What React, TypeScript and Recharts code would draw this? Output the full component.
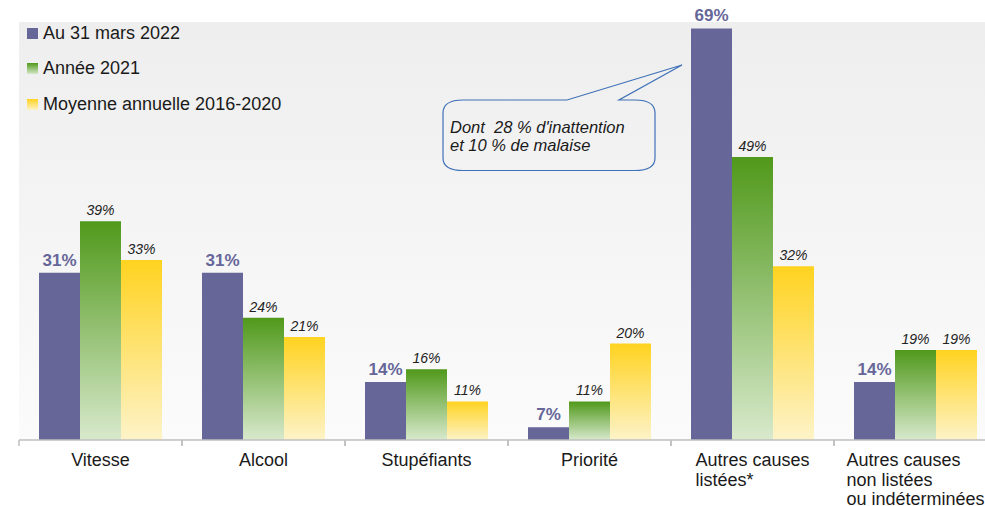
import { BarChart, Bar, XAxis, YAxis, CartesianGrid, LabelList, Legend } from 'recharts';

const categories = [
  'Vitesse',
  'Alcool',
  'Stupéfiants',
  'Priorité',
  'Autres causes\nlistées*',
  'Autres causes\nnon listées\nou indéterminées',
];
const mars2022 = [31, 31, 14, 7, 69, 14];
const annee2021 = [39, 24, 16, 11, 49, 19];
const moyenne = [33, 21, 11, 20, 32, 19];
const seriesNames = ['Au 31 mars 2022', 'Année 2021', 'Moyenne annuelle 2016-2020'];

const data = categories.map((cause, i) => ({
  cause,
  mars2022: mars2022[i],
  annee2021: annee2021[i],
  moyenne: moyenne[i],
}));

const FONT = '"Liberation Sans", Arial, sans-serif';
const CHART_W = 1000;
const CHART_H = 506;
const MARGIN = { top: 22, right: 3, left: 19, bottom: 0 };
const BAND = (CHART_W - MARGIN.left - MARGIN.right) / categories.length;
const AXIS_GRAY = '#bfbfbf';

const swatches = [
  '#666699',
  'linear-gradient(#50991b, #d6e8ca)',
  'linear-gradient(#ffd320, #fdf2c6)',
];

// measure text so multi-line labels can be left-aligned as a centred block
let ctx: CanvasRenderingContext2D | null = null;
const measure = (s: string) => {
  if (!ctx) ctx = document.createElement('canvas').getContext('2d');
  if (!ctx) return s.length * 9;
  ctx.font = `18px ${FONT}`;
  return ctx.measureText(s).width;
};

const CauseTick = ({ x, y, payload }: any) => {
  const lines = String(payload.value).split('\n');
  const multi = lines.length > 1;
  const maxW = Math.max(...lines.map(measure));
  const tx = multi ? x - maxW / 2 : x;
  return (
    <g>
      <line x1={x - BAND / 2} y1={y} x2={x - BAND / 2} y2={y + 6} stroke={AXIS_GRAY} strokeWidth={1.5} />
      <line x1={x + BAND / 2} y1={y} x2={x + BAND / 2} y2={y + 6} stroke={AXIS_GRAY} strokeWidth={1.5} />
      <text x={tx} y={y + 26} textAnchor={multi ? 'start' : 'middle'} fontFamily={FONT} fontSize={18} fill="#1a1a1a">
        {lines.map((l, i) => (
          <tspan key={i} x={tx} dy={i === 0 ? 0 : 19.7}>
            {l}
          </tspan>
        ))}
      </text>
    </g>
  );
};

const LegendContent = ({ payload }: any) => {
  const items = [...(payload || [])].sort(
    (a: any, b: any) => seriesNames.indexOf(a.value) - seriesNames.indexOf(b.value),
  );
  return (
    <div style={{ fontFamily: FONT, fontSize: 18, color: '#1a1a1a' }}>
      {items.map((p: any) => (
        <div key={p.value} style={{ display: 'flex', alignItems: 'center', height: 35.3, whiteSpace: 'nowrap' }}>
          <span
            style={{
              display: 'inline-block',
              width: 11,
              height: 11,
              background: swatches[seriesNames.indexOf(p.value)],
              marginRight: 5,
            }}
          />
          <span>{p.value}</span>
        </div>
      ))}
    </div>
  );
};

const pct = (v: any) => `${v}%`;

const Callout = () => (
  <svg width={985} height={506} style={{ position: 'absolute', left: 0, top: 0, pointerEvents: 'none' }}>
    <path
      d="M 463 100 L 567 100 L 682 65 L 619 100 L 635 100 Q 655 100 655 113 L 655 158 Q 655 170.5 635 170.5 L 463 170.5 Q 443 170.5 443 158 L 443 113 Q 443 100 463 100 Z"
      fill="none"
      stroke="#3f71b8"
      strokeWidth={1.2}
    />
    <text fontFamily={FONT} fontSize={16.5} fontStyle="italic" fill="#1a1a1a" style={{ whiteSpace: 'pre' }}>
      <tspan x={450} y={132.5}>Dont  28 % d'inattention</tspan>
      <tspan x={450} y={151}>et 10 % de malaise</tspan>
    </text>
  </svg>
);

export default function App() {
  return (
    <div style={{ position: 'absolute', left: 0, top: 0, width: 985, height: 506, overflow: 'hidden', background: '#fff' }}>
      <BarChart width={CHART_W} height={CHART_H} data={data} margin={MARGIN} barSize={41} barGap={0}>
        <defs>
          <linearGradient id="bgGrad" x1="0" y1="0" x2="0" y2="1">
            <stop offset="0%" stopColor="#eeeeee" />
            <stop offset="100%" stopColor="#fbfbfb" />
          </linearGradient>
          <linearGradient id="greenGrad" x1="0" y1="0" x2="0" y2="1">
            <stop offset="0%" stopColor="#50991b" />
            <stop offset="100%" stopColor="#d8e9cc" />
          </linearGradient>
          <linearGradient id="yellowGrad" x1="0" y1="0" x2="0" y2="1">
            <stop offset="0%" stopColor="#ffd320" />
            <stop offset="100%" stopColor="#fdf3c8" />
          </linearGradient>
        </defs>
        <CartesianGrid horizontal={false} vertical={false} stroke="none" fill="url(#bgGrad)" />
        <XAxis
          dataKey="cause"
          height={66}
          interval={0}
          tickLine={false}
          tickSize={0}
          tickMargin={0}
          axisLine={{ stroke: AXIS_GRAY, strokeWidth: 1.5 }}
          tick={<CauseTick />}
        />
        <YAxis hide width={0} domain={[5, 70]} allowDataOverflow />
        <Legend
          layout="vertical"
          align="center"
          verticalAlign="middle"
          itemSorter={null}
          content={<LegendContent />}
          wrapperStyle={{ left: 27, top: 16, width: 320, height: 110 }}
        />
        <Bar dataKey="mars2022" name={seriesNames[0]} fill="#666699" isAnimationActive={false}>
          <LabelList dataKey="mars2022" position="top" offset={7} formatter={pct} fill="#666699" fontSize={17} fontWeight="bold" fontFamily={FONT} />
        </Bar>
        <Bar dataKey="annee2021" name={seriesNames[1]} fill="url(#greenGrad)" isAnimationActive={false}>
          <LabelList dataKey="annee2021" position="top" offset={6} formatter={pct} fill="#222" fontSize={14} fontStyle="italic" fontFamily={FONT} />
        </Bar>
        <Bar dataKey="moyenne" name={seriesNames[2]} fill="url(#yellowGrad)" isAnimationActive={false}>
          <LabelList dataKey="moyenne" position="top" offset={6} formatter={pct} fill="#222" fontSize={14} fontStyle="italic" fontFamily={FONT} />
        </Bar>
      </BarChart>
      <Callout />
    </div>
  );
}
